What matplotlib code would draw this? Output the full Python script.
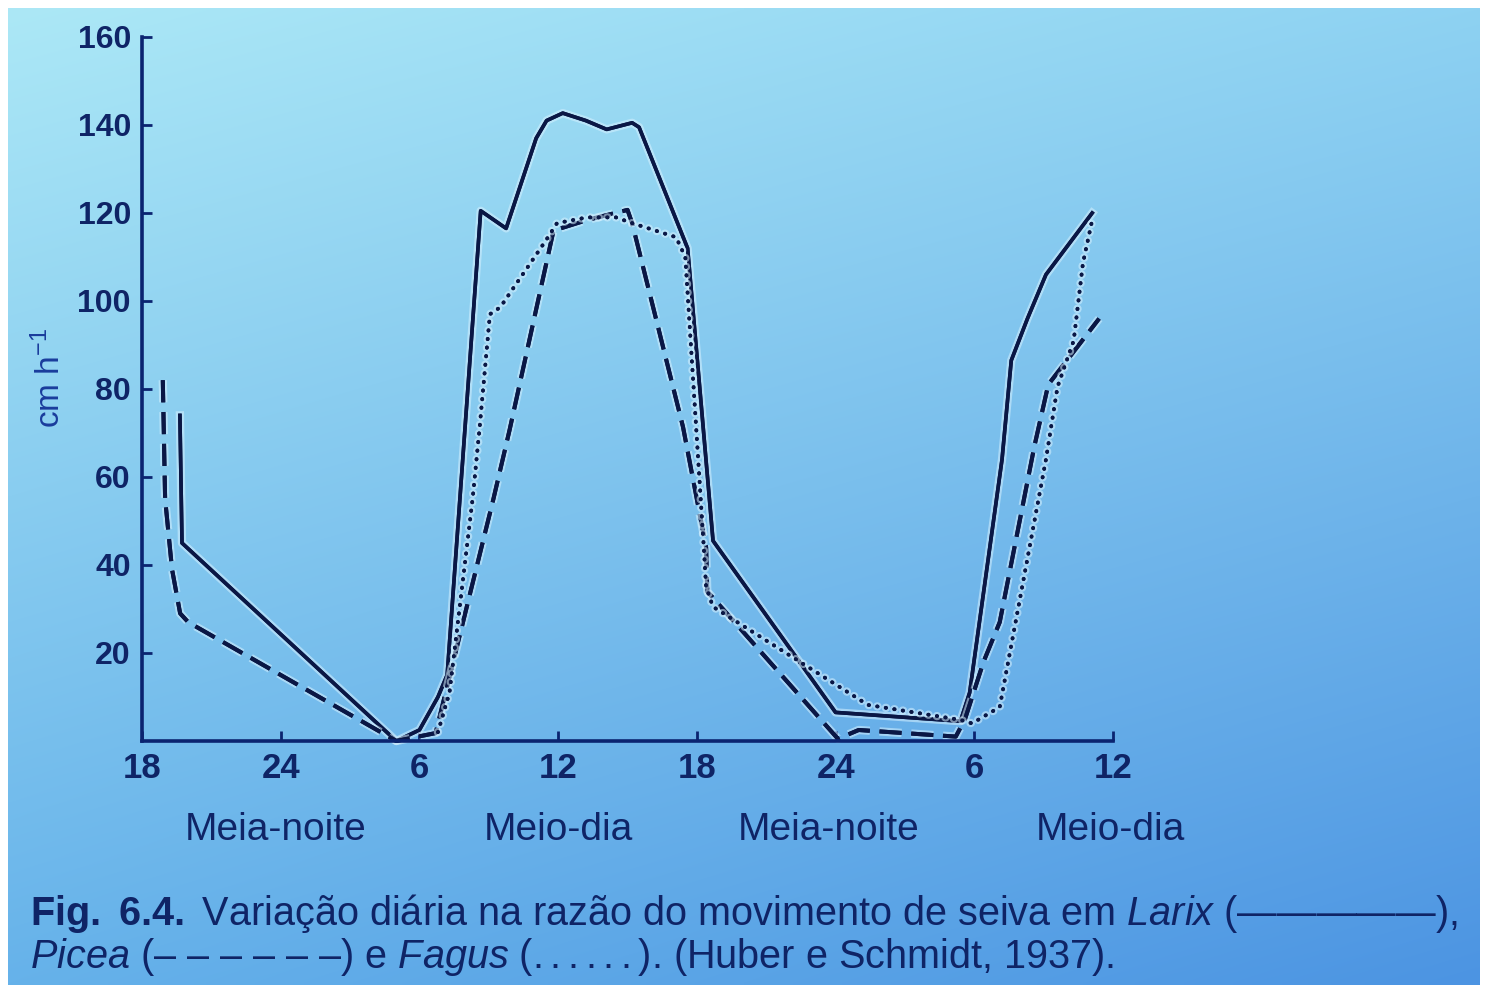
import numpy as np
import matplotlib

matplotlib.use("Agg")
import matplotlib.pyplot as plt
import matplotlib.patheffects as pe

plt.rcParams["font.family"] = ["Liberation Sans", "DejaVu Sans"]
plt.rcParams["mathtext.fontset"] = "custom"
plt.rcParams["mathtext.rm"] = "Liberation Sans"
plt.rcParams["mathtext.it"] = "Liberation Sans:italic"
plt.rcParams["mathtext.bf"] = "Liberation Sans:bold"

# hours counted from 18:00 of the first day
hour_ticks = [0, 6, 12, 18, 24, 30, 36, 42]
hour_labels = ["18", "24", "6", "12", "18", "24", "6", "12"]
period_labels = ["Meia-noite", "Meio-dia", "Meia-noite", "Meio-dia"]
period_hours = [5.8, 18.0, 29.7, 41.9]
y_ticks = [20, 40, 60, 80, 100, 120, 140, 160]

# Larix (solid)
larix_h = [1.64, 1.73, 11.0, 12.0, 12.8, 13.2, 14.65, 15.75, 17.05, 17.5, 18.2,
           19.2, 20.1, 21.2, 21.5, 23.6, 24.7, 30.0, 35.4, 35.8, 37.2, 37.6,
           38.3, 39.1, 41.1]
larix_v = [74, 45, 0, 2.5, 10, 15, 120.5, 116.5, 137, 141, 142.7,
           141, 139, 140.5, 139.5, 112, 45.5, 6.5, 4.5, 11, 64, 86.5,
           96, 106, 120]

# Picea (dashed)
picea_h = [0.9, 1.0, 1.3, 1.65, 2.0, 11.0, 12.7, 15.2, 15.9, 17.8, 19.25, 21.0,
           21.2, 23.4, 24.4, 24.45, 30.1, 31.0, 35.2, 35.6, 36.4, 37.1, 38.6,
           39.2, 41.4]
picea_v = [82, 55, 39, 29, 27, 0, 1.8, 55, 70.7, 116, 118.4, 120.7,
           117.7, 71.4, 44, 34, 0.5, 2.5, 1.0, 5, 18, 27, 67,
           81, 96]

# Fagus (dotted)
fagus_h = [12.8, 13.3, 14.3, 14.6, 15.05, 15.5, 17.5, 17.95, 19.25, 20.5, 21.2,
           23.1, 23.5, 24.3, 24.4, 24.7, 31.4, 35.4, 35.9, 37.1, 39.1, 39.6,
           40.3, 40.7, 41.1]
fagus_v = [2, 11, 55, 71, 97, 98.6, 114, 117.7, 119, 119, 117.7,
           114.5, 110, 44, 35, 30.5, 8.2, 4.8, 4, 7.7, 64, 80.5,
           91, 108.6, 118.4]

W, H = 1488, 990
INK = "#0a1745"
AXIS = "#0b2470"
TEXT = "#0f2466"

fig = plt.figure(figsize=(W / 100, H / 100), dpi=100, facecolor="white")

# photographed page: light cyan top-left fading to deeper blue bottom-right
bg = fig.add_axes([8 / W, 5 / H, 1472 / W, 977 / H])
bg.set_axis_off()
tl = np.array([0xac, 0xe8, 0xf6]) / 255
tr = np.array([0x8e, 0xd2, 0xf2]) / 255
bl = np.array([0x66, 0xb2, 0xea]) / 255
br = np.array([0x4c, 0x94, 0xe2]) / 255
u = np.linspace(0, 1, 300)[None, :, None]
v = np.linspace(0, 1, 200)[:, None, None]
img = (1 - v) * ((1 - u) * tl + u * tr) + v * ((1 - u) * bl + u * br)
bg.imshow(img, aspect="auto", interpolation="bilinear")

ax = fig.add_axes([142 / W, 1 - 741 / H, (1113 - 142) / W, (741 - 37) / H])
ax.patch.set_alpha(0)
ax.set_xlim(0, 42)
ax.set_ylim(0, 160)
for side in ("top", "right"):
    ax.spines[side].set_visible(False)
for side in ("left", "bottom"):
    ax.spines[side].set_linewidth(2.6)
    ax.spines[side].set_color(AXIS)

ax.set_xticks(hour_ticks, hour_labels)
ax.set_yticks(y_ticks)
ax.tick_params(direction="in", length=7, width=2, color=AXIS, labelcolor=TEXT)
ax.tick_params(axis="x", pad=8, labelsize=25)
ax.tick_params(axis="y", pad=8, labelsize=23)
for lab in ax.get_xticklabels() + ax.get_yticklabels():
    lab.set_fontweight("bold")

halo = [pe.withStroke(linewidth=6, foreground="#d6f1ff", alpha=0.55), pe.Normal()]
ax.plot(larix_h, larix_v, color=INK, lw=2.6, ls="-", solid_joinstyle="round",
        clip_on=False, path_effects=halo)
ax.plot(picea_h, picea_v, color=INK, lw=2.9, ls=(0, (5.5, 2.4)),
        clip_on=False, path_effects=halo)
ax.plot(fagus_h, fagus_v, color=INK, lw=2.7, ls=(0, (0.1, 2.2)),
        dash_capstyle="round", clip_on=False, path_effects=halo)

for name, h in zip(period_labels, period_hours):
    ax.text(h, -0.126, name, transform=ax.get_xaxis_transform(),
            ha="center", va="center", fontsize=28, color=TEXT)

fig.text(50 / W, 1 - 378 / H, r"cm h$^{-1}$", rotation=90, ha="center",
         va="center", fontsize=24, color="#1a3c9c")

cap1 = (r"$\mathbf{Fig.\ 6.4.}$ Variação diária na razão do movimento de seiva "
        r"em $\mathit{Larix}$ (—————),")
cap2 = r"$\mathit{Picea}$ (– – – – – –) e $\mathit{Fagus\ (......)}$. (Huber e Schmidt, 1937)."
fig.text(30 / W, 1 - 925 / H, cap1, ha="left", va="baseline", fontsize=28.5, color=TEXT)
fig.text(30 / W, 1 - 968 / H, cap2, ha="left", va="baseline", fontsize=28.5, color=TEXT)

fig.savefig("out.png", dpi=100, facecolor="white")
